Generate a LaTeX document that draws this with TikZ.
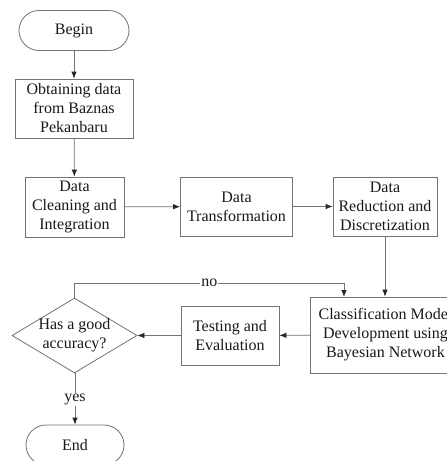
\documentclass[tikz,border=0pt]{standalone}
\usepackage{fontspec}
\setmainfont{Liberation Serif}
\usetikzlibrary{shapes.geometric,arrows.meta}

\begin{document}
\begin{tikzpicture}[font=\fontsize{16}{19}\selectfont,>={Latex[length=7pt,width=5.5pt,color=black!85]},x=1pt,y=-1pt,
    box/.style={draw=black!55,line width=0.8pt,align=center,text=black!90,inner sep=2pt},
    term/.style={box,rounded corners=20pt,minimum height=40pt},
    test/.style={box,diamond,aspect=1.667,inner sep=-1pt,minimum width=125pt,minimum height=75pt},
    link/.style={draw=black!55,line width=0.8pt},
    lbl/.style={fill=white,inner sep=1pt,text=black!90}]
    \useasboundingbox[fill=white] (0,0) rectangle (447,461);
    \clip (0,0) rectangle (447,461);

    \node[term,minimum width=110pt] (begin) at (74,30.5) {Begin};
    \node[box,minimum width=118pt,minimum height=59pt] (obtain) at (74,108.5)
        {Obtaining data\\from Baznas\\Pekanbaru};
    \node[box,minimum width=99pt,minimum height=60pt] (clean) at (74.5,207)
        {Data\\Cleaning and\\Integration};
    \node[box,minimum width=112pt,minimum height=59pt] (transf) at (236.5,206.5)
        {Data\\Transformation};
    \node[box,minimum width=104pt,minimum height=59pt] (reduct) at (385,206.5)
        {Data\\Reduction and\\Discretization};
    \node[box,minimum width=150pt,minimum height=76pt] (model) at (385.5,335)
        {Classification Model\\Development using\\Bayesian Network};
    \node[box,minimum width=98pt,minimum height=59pt] (evalu) at (230,335.5)
        {Testing and\\Evaluation};
    \node[test] (accur) at (74.5,335.5) {Has a good\\accuracy?};
    \node[term,minimum width=98pt] (finish) at (75,445) {End};

    \coordinate (nobend) at (344,283);
    \coordinate (noin) at (344,297);

    \draw[link,->] (begin) -- (obtain);
    \draw[link,->] (obtain) -- (clean);
    \draw[link,->] (clean) -- (transf);
    \draw[link,->] (transf) -- (reduct);
    \draw[link,->] (reduct.south) -- (reduct.south |- model.north);
    \draw[link,->] (model) -- (evalu);
    \draw[link,->] (evalu) -- (accur);
    \draw[link,->] (accur.north) |- (nobend) node[lbl,pos=0.75] {no} -- (noin);
    \draw[link,->] (accur.south) -- (finish.north |- accur.south) -- (finish.north)
        node[lbl,pos=0.5] {yes};
\end{tikzpicture}
\end{document}
